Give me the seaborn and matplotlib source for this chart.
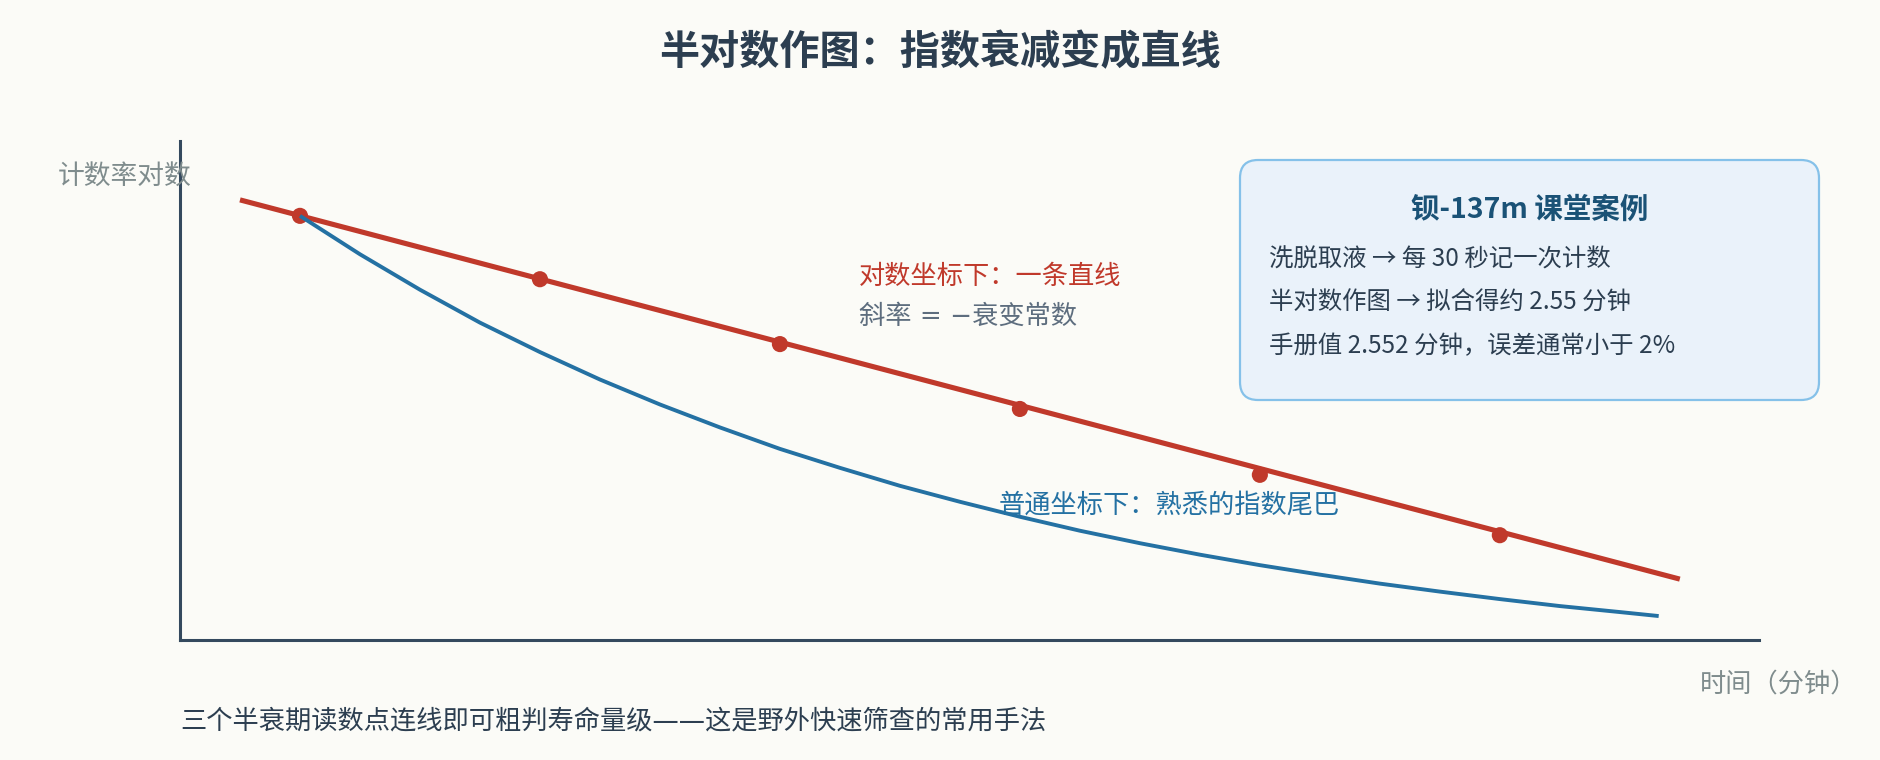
import matplotlib
matplotlib.use("Agg")
import matplotlib.pyplot as plt
from matplotlib.patches import FancyBboxPatch
import pandas as pd
import seaborn as sns

# ---------------- data ----------------
# sample times (minutes) of the counts, every 30 s
sample_time = [0.5, 1.0, 1.5, 2.0, 2.5, 3.0]
# log of count rate, plotted in relative chart units (0-100)
log_rate = [85.0, 72.3, 59.3, 46.3, 33.1, 21.0]
# fitted straight line on the semi-log plot
fit_time = [0.375, 3.375]
fit_log_rate = [88.2, 12.2]
# same decay drawn on an ordinary (linear) scale, read every 7.5 s
linear_time = [0.5, 0.625, 0.75, 0.875, 1.0, 1.125, 1.25, 1.375,
               1.5, 1.625, 1.75, 1.875, 2.0, 2.125, 2.25, 2.375,
               2.5, 2.625, 2.75, 2.875, 3.0, 3.125, 3.25, 3.331]
linear_rate = [85.0, 77.3, 70.2, 63.6, 57.7, 52.2, 47.2, 42.6,
               38.3, 34.5, 30.9, 27.7, 24.7, 21.9, 19.4, 17.1,
               15.0, 13.1, 11.3, 9.7, 8.2, 6.8, 5.6, 4.8]

title = "半对数作图：指数衰减变成直线"
y_label = "计数率对数"
x_label = "时间（分钟）"
red_note = "对数坐标下：一条直线"
slope_note = "斜率 = −衰变常数"
blue_note = "普通坐标下：熟悉的指数尾巴"
box_title = "钡-137m 课堂案例"
box_lines = ["洗脱取液 → 每 30 秒记一次计数",
             "半对数作图 → 拟合得约 2.55 分钟",
             "手册值 2.552 分钟，误差通常小于 2%"]
footnote = "三个半衰期读数点连线即可粗判寿命量级——这是野外快速筛查的常用手法"

# ---------------- style ----------------
sns.set_theme(style="white")
plt.rcParams["font.family"] = ["Noto Sans CJK SC", "DejaVu Sans"]
plt.rcParams["axes.unicode_minus"] = False
LATIN_FIRST = ["DejaVu Sans", "Noto Sans CJK SC"]

BG = "#fbfbf7"
RED = "#c0392b"
BLUE = "#2471a3"
DARK = "#2c3e50"
AXIS = "#34495e"
GRAY = "#7f8c8d"

W, H = 1880, 760
fig = plt.figure(figsize=(W / 100, H / 100), dpi=100, facecolor=BG)

def fx(px):
    return px / W

def fy(py):
    return 1 - py / H

ax = fig.add_axes([fx(180), fy(640), (1759 - 180) / W, (640 - 141) / H])
ax.set_facecolor(BG)

fit_df = pd.DataFrame({"t": fit_time, "y": fit_log_rate})
pts_df = pd.DataFrame({"t": sample_time, "y": log_rate})
lin_df = pd.DataFrame({"t": linear_time, "y": linear_rate})

sns.lineplot(data=fit_df, x="t", y="y", ax=ax, color=RED, linewidth=3.7,
             estimator=None, sort=False, solid_capstyle="butt")
sns.scatterplot(data=pts_df, x="t", y="y", ax=ax, color=RED, s=135,
                edgecolor="none", zorder=3)
sns.lineplot(data=lin_df, x="t", y="y", ax=ax, color=BLUE, linewidth=2.8,
             estimator=None, sort=False, solid_capstyle="butt", zorder=4)

ax.set_xlim(0.25, 3.54)
ax.set_ylim(0, 100)
ax.set_xticks([])
ax.set_yticks([])
ax.set_xlabel("")
ax.set_ylabel("")
for side in ("top", "right"):
    ax.spines[side].set_visible(False)
for side in ("left", "bottom"):
    ax.spines[side].set_color(AXIS)
    ax.spines[side].set_linewidth(2.2)

# ---------------- texts ----------------
fig.text(fx(940), fy(53), title, ha="center", va="center", fontsize=28.9,
         fontweight="bold", color=DARK)
fig.text(fx(58), fy(176), y_label, ha="left", va="center", fontsize=19.3,
         color=GRAY)
fig.text(fx(1700), fy(684), x_label, ha="left", va="center", fontsize=18.9,
         color=GRAY)
fig.text(fx(859), fy(276), red_note, ha="left", va="center", fontsize=18.9,
         color=RED)
fig.text(fx(859), fy(317), slope_note, ha="left", va="center", fontsize=18.9,
         color="#5d6d7e", family=LATIN_FIRST)
fig.text(fx(999), fy(505), blue_note, ha="left", va="center", fontsize=18.9,
         color=BLUE)
fig.text(fx(180), fy(721), footnote, ha="left", va="center", fontsize=18.9,
         color=DARK, family=LATIN_FIRST)

# info box (display pixel coordinates)
box = FancyBboxPatch((1240, H - 400), 579, 240,
                     boxstyle="round,pad=0,rounding_size=18",
                     transform=None, facecolor="#eaf2fa", edgecolor="#85c1e9",
                     linewidth=1.6, zorder=1)
fig.patches.append(box)
fig.text(fx(1530), fy(210), box_title, ha="center", va="center", fontsize=20.5,
         fontweight="bold", color="#1a5276")
for i, line in enumerate(box_lines):
    fig.text(fx(1269), fy(260 + 43 * i), line, ha="left", va="center",
             fontsize=17.6, color=DARK)

fig.savefig("out.png", dpi=100, facecolor=BG)
